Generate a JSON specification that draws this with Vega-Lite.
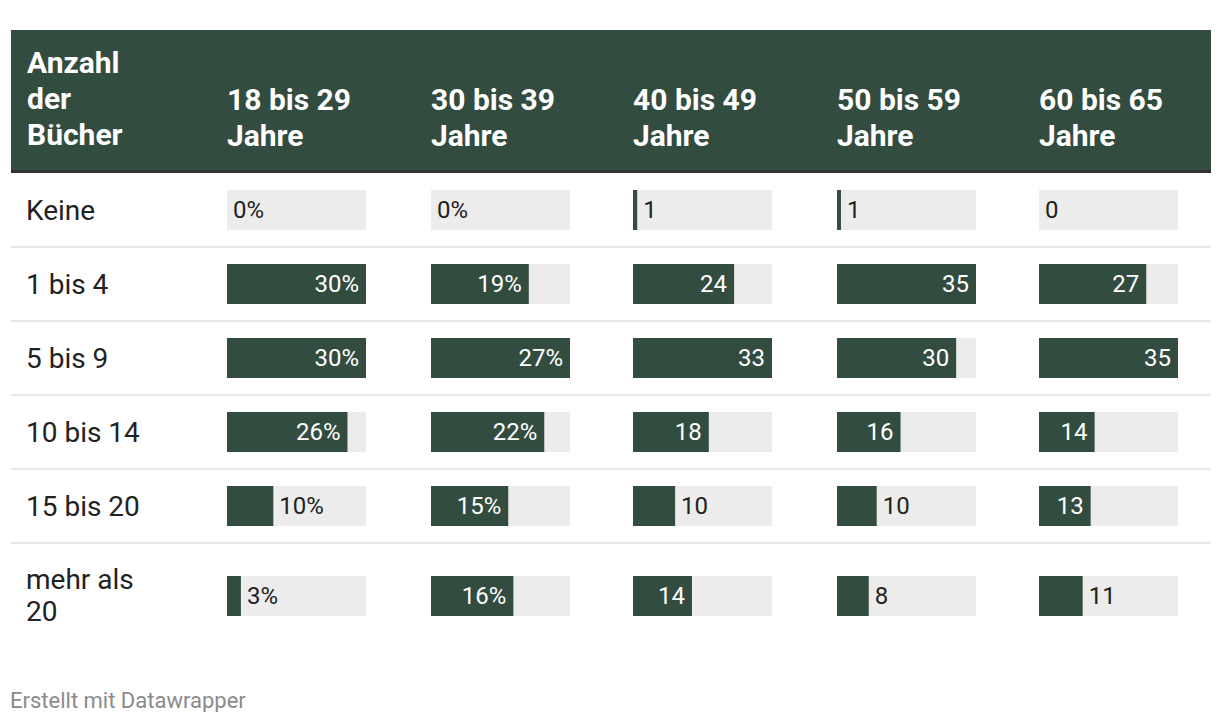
{
  "$schema": "https://vega.github.io/schema/vega-lite/v6.json",
  "background": "white",
  "padding": {"left": 10, "top": 30, "right": 10, "bottom": 0},
  "bounds": "flush",
  "columns": 6,
  "spacing": 0,
  "config": {"font": "Roboto", "view": {"stroke": null}, "concat": {"spacing": 0}},
  "title": {"text": "Erstellt mit Datawrapper", "orient": "bottom", "anchor": "start", "fontSize": 22, "fontWeight": "normal", "color": "#8a8a8a", "offset": 42, "font": "Roboto"},
  "datasets": {
    "t": [
      {"g": "18 bis 29 Jahre", "cat": "Keine", "v": 0, "t": "0%"},
      {"g": "18 bis 29 Jahre", "cat": "1 bis 4", "v": 30, "t": "30%"},
      {"g": "18 bis 29 Jahre", "cat": "5 bis 9", "v": 30, "t": "30%"},
      {"g": "18 bis 29 Jahre", "cat": "10 bis 14", "v": 26, "t": "26%"},
      {"g": "18 bis 29 Jahre", "cat": "15 bis 20", "v": 10, "t": "10%"},
      {"g": "18 bis 29 Jahre", "cat": "mehr als 20", "v": 3, "t": "3%"},
      {"g": "30 bis 39 Jahre", "cat": "Keine", "v": 0, "t": "0%"},
      {"g": "30 bis 39 Jahre", "cat": "1 bis 4", "v": 19, "t": "19%"},
      {"g": "30 bis 39 Jahre", "cat": "5 bis 9", "v": 27, "t": "27%"},
      {"g": "30 bis 39 Jahre", "cat": "10 bis 14", "v": 22, "t": "22%"},
      {"g": "30 bis 39 Jahre", "cat": "15 bis 20", "v": 15, "t": "15%"},
      {"g": "30 bis 39 Jahre", "cat": "mehr als 20", "v": 16, "t": "16%"},
      {"g": "40 bis 49 Jahre", "cat": "Keine", "v": 1, "t": "1"},
      {"g": "40 bis 49 Jahre", "cat": "1 bis 4", "v": 24, "t": "24"},
      {"g": "40 bis 49 Jahre", "cat": "5 bis 9", "v": 33, "t": "33"},
      {"g": "40 bis 49 Jahre", "cat": "10 bis 14", "v": 18, "t": "18"},
      {"g": "40 bis 49 Jahre", "cat": "15 bis 20", "v": 10, "t": "10"},
      {"g": "40 bis 49 Jahre", "cat": "mehr als 20", "v": 14, "t": "14"},
      {"g": "50 bis 59 Jahre", "cat": "Keine", "v": 1, "t": "1"},
      {"g": "50 bis 59 Jahre", "cat": "1 bis 4", "v": 35, "t": "35"},
      {"g": "50 bis 59 Jahre", "cat": "5 bis 9", "v": 30, "t": "30"},
      {"g": "50 bis 59 Jahre", "cat": "10 bis 14", "v": 16, "t": "16"},
      {"g": "50 bis 59 Jahre", "cat": "15 bis 20", "v": 10, "t": "10"},
      {"g": "50 bis 59 Jahre", "cat": "mehr als 20", "v": 8, "t": "8"},
      {"g": "60 bis 65 Jahre", "cat": "Keine", "v": 0, "t": "0"},
      {"g": "60 bis 65 Jahre", "cat": "1 bis 4", "v": 27, "t": "27"},
      {"g": "60 bis 65 Jahre", "cat": "5 bis 9", "v": 35, "t": "35"},
      {"g": "60 bis 65 Jahre", "cat": "10 bis 14", "v": 14, "t": "14"},
      {"g": "60 bis 65 Jahre", "cat": "15 bis 20", "v": 13, "t": "13"},
      {"g": "60 bis 65 Jahre", "cat": "mehr als 20", "v": 11, "t": "11"}
    ]
  },
  "concat": [
    {"width": 216, "height": 140, "view": {"fill": "#334c40", "stroke": null}, "data": {"values": [{"h": "Anzahl\nder\nBücher"}]}, "mark": {"type": "text", "align": "left", "baseline": "alphabetic", "dx": 16, "fontSize": 30, "fontWeight": "bold", "color": "white", "lineBreak": "\n", "lineHeight": 36}, "encoding": {"x": {"value": 0}, "y": {"value": 43}, "text": {"field": "h"}}},
    {"width": 204, "height": 140, "view": {"fill": "#334c40", "stroke": null}, "data": {"values": [{"h": "18 bis 29\nJahre"}]}, "mark": {"type": "text", "align": "left", "baseline": "alphabetic", "dx": 0, "fontSize": 30, "fontWeight": "bold", "color": "white", "lineBreak": "\n", "lineHeight": 36}, "encoding": {"x": {"value": 0}, "y": {"value": 80}, "text": {"field": "h"}}},
    {"width": 202, "height": 140, "view": {"fill": "#334c40", "stroke": null}, "data": {"values": [{"h": "30 bis 39\nJahre"}]}, "mark": {"type": "text", "align": "left", "baseline": "alphabetic", "dx": 0, "fontSize": 30, "fontWeight": "bold", "color": "white", "lineBreak": "\n", "lineHeight": 36}, "encoding": {"x": {"value": 0}, "y": {"value": 80}, "text": {"field": "h"}}},
    {"width": 204, "height": 140, "view": {"fill": "#334c40", "stroke": null}, "data": {"values": [{"h": "40 bis 49\nJahre"}]}, "mark": {"type": "text", "align": "left", "baseline": "alphabetic", "dx": 0, "fontSize": 30, "fontWeight": "bold", "color": "white", "lineBreak": "\n", "lineHeight": 36}, "encoding": {"x": {"value": 0}, "y": {"value": 80}, "text": {"field": "h"}}},
    {"width": 202, "height": 140, "view": {"fill": "#334c40", "stroke": null}, "data": {"values": [{"h": "50 bis 59\nJahre"}]}, "mark": {"type": "text", "align": "left", "baseline": "alphabetic", "dx": 0, "fontSize": 30, "fontWeight": "bold", "color": "white", "lineBreak": "\n", "lineHeight": 36}, "encoding": {"x": {"value": 0}, "y": {"value": 80}, "text": {"field": "h"}}},
    {"width": 172, "height": 140, "view": {"fill": "#334c40", "stroke": null}, "data": {"values": [{"h": "60 bis 65\nJahre"}]}, "mark": {"type": "text", "align": "left", "baseline": "alphabetic", "dx": 0, "fontSize": 30, "fontWeight": "bold", "color": "white", "lineBreak": "\n", "lineHeight": 36}, "encoding": {"x": {"value": 0}, "y": {"value": 80}, "text": {"field": "h"}}},

    {"width": 216, "height": 3, "view": {"fill": "#333333", "stroke": null}, "data": {"values": [{}]}, "mark": {"type": "text", "text": ""}},
    {"width": 204, "height": 3, "view": {"fill": "#333333", "stroke": null}, "data": {"values": [{}]}, "mark": {"type": "text", "text": ""}},
    {"width": 202, "height": 3, "view": {"fill": "#333333", "stroke": null}, "data": {"values": [{}]}, "mark": {"type": "text", "text": ""}},
    {"width": 204, "height": 3, "view": {"fill": "#333333", "stroke": null}, "data": {"values": [{}]}, "mark": {"type": "text", "text": ""}},
    {"width": 202, "height": 3, "view": {"fill": "#333333", "stroke": null}, "data": {"values": [{}]}, "mark": {"type": "text", "text": ""}},
    {"width": 172, "height": 3, "view": {"fill": "#333333", "stroke": null}, "data": {"values": [{}]}, "mark": {"type": "text", "text": ""}},

    {"width": 216, "height": 370, "data": {"name": "t"}, "transform": [{"filter": "datum.g == '18 bis 29 Jahre' && datum.cat != 'mehr als 20'"}],
     "encoding": {"y": {"field": "cat", "type": "nominal", "axis": null, "sort": null, "scale": {"domain": ["Keine", "1 bis 4", "5 bis 9", "10 bis 14", "15 bis 20"], "paddingInner": 0, "paddingOuter": 0}}},
     "layer": [
       {"mark": {"type": "text", "align": "left", "baseline": "middle", "dx": 15, "dy": 2, "fontSize": 28, "color": "#222222"}, "encoding": {"x": {"value": 0}, "text": {"field": "cat"}}},
       {"mark": {"type": "rule", "color": "#e8e8e8", "strokeWidth": 2}, "encoding": {"y": {"field": "cat", "type": "nominal", "bandPosition": 1}}}
     ]},
    {"width": 204, "height": 370, "data": {"name": "t"}, "transform": [{"filter": "datum.g == '18 bis 29 Jahre' && datum.cat != 'mehr als 20'"}],
     "encoding": {"y": {"field": "cat", "type": "nominal", "axis": null, "sort": null, "scale": {"domain": ["Keine", "1 bis 4", "5 bis 9", "10 bis 14", "15 bis 20"], "paddingInner": 0, "paddingOuter": 0}}},
     "layer": [
       {"mark": {"type": "bar", "color": "#ececec", "height": 40}, "encoding": {"x": {"datum": 0, "type": "quantitative", "axis": null, "scale": {"domain": [0, 30], "range": [0, 139], "nice": false}}, "x2": {"datum": 30}}},
       {"mark": {"type": "bar", "color": "#334c40", "height": 40}, "encoding": {"x": {"field": "v", "type": "quantitative", "axis": null}}},
       {"transform": [{"filter": "datum.v >= 10.5"}], "mark": {"type": "text", "align": "right", "baseline": "middle", "dx": -7, "dy": 1, "fontSize": 24, "color": "white"}, "encoding": {"x": {"field": "v", "type": "quantitative"}, "text": {"field": "t"}}},
       {"transform": [{"filter": "datum.v < 10.5"}], "mark": {"type": "text", "align": "left", "baseline": "middle", "dx": 6, "dy": 1, "fontSize": 24, "color": "#222222"}, "encoding": {"x": {"field": "v", "type": "quantitative"}, "text": {"field": "t"}}},
       {"mark": {"type": "rule", "color": "#e8e8e8", "strokeWidth": 2}, "encoding": {"y": {"field": "cat", "type": "nominal", "bandPosition": 1}}}
     ]},
    {"width": 202, "height": 370, "data": {"name": "t"}, "transform": [{"filter": "datum.g == '30 bis 39 Jahre' && datum.cat != 'mehr als 20'"}],
     "encoding": {"y": {"field": "cat", "type": "nominal", "axis": null, "sort": null, "scale": {"domain": ["Keine", "1 bis 4", "5 bis 9", "10 bis 14", "15 bis 20"], "paddingInner": 0, "paddingOuter": 0}}},
     "layer": [
       {"mark": {"type": "bar", "color": "#ececec", "height": 40}, "encoding": {"x": {"datum": 0, "type": "quantitative", "axis": null, "scale": {"domain": [0, 27], "range": [0, 139], "nice": false}}, "x2": {"datum": 27}}},
       {"mark": {"type": "bar", "color": "#334c40", "height": 40}, "encoding": {"x": {"field": "v", "type": "quantitative", "axis": null}}},
       {"transform": [{"filter": "datum.v >= 9.45"}], "mark": {"type": "text", "align": "right", "baseline": "middle", "dx": -7, "dy": 1, "fontSize": 24, "color": "white"}, "encoding": {"x": {"field": "v", "type": "quantitative"}, "text": {"field": "t"}}},
       {"transform": [{"filter": "datum.v < 9.45"}], "mark": {"type": "text", "align": "left", "baseline": "middle", "dx": 6, "dy": 1, "fontSize": 24, "color": "#222222"}, "encoding": {"x": {"field": "v", "type": "quantitative"}, "text": {"field": "t"}}},
       {"mark": {"type": "rule", "color": "#e8e8e8", "strokeWidth": 2}, "encoding": {"y": {"field": "cat", "type": "nominal", "bandPosition": 1}}}
     ]},
    {"width": 204, "height": 370, "data": {"name": "t"}, "transform": [{"filter": "datum.g == '40 bis 49 Jahre' && datum.cat != 'mehr als 20'"}],
     "encoding": {"y": {"field": "cat", "type": "nominal", "axis": null, "sort": null, "scale": {"domain": ["Keine", "1 bis 4", "5 bis 9", "10 bis 14", "15 bis 20"], "paddingInner": 0, "paddingOuter": 0}}},
     "layer": [
       {"mark": {"type": "bar", "color": "#ececec", "height": 40}, "encoding": {"x": {"datum": 0, "type": "quantitative", "axis": null, "scale": {"domain": [0, 33], "range": [0, 139], "nice": false}}, "x2": {"datum": 33}}},
       {"mark": {"type": "bar", "color": "#334c40", "height": 40}, "encoding": {"x": {"field": "v", "type": "quantitative", "axis": null}}},
       {"transform": [{"filter": "datum.v >= 11.55"}], "mark": {"type": "text", "align": "right", "baseline": "middle", "dx": -7, "dy": 1, "fontSize": 24, "color": "white"}, "encoding": {"x": {"field": "v", "type": "quantitative"}, "text": {"field": "t"}}},
       {"transform": [{"filter": "datum.v < 11.55"}], "mark": {"type": "text", "align": "left", "baseline": "middle", "dx": 6, "dy": 1, "fontSize": 24, "color": "#222222"}, "encoding": {"x": {"field": "v", "type": "quantitative"}, "text": {"field": "t"}}},
       {"mark": {"type": "rule", "color": "#e8e8e8", "strokeWidth": 2}, "encoding": {"y": {"field": "cat", "type": "nominal", "bandPosition": 1}}}
     ]},
    {"width": 202, "height": 370, "data": {"name": "t"}, "transform": [{"filter": "datum.g == '50 bis 59 Jahre' && datum.cat != 'mehr als 20'"}],
     "encoding": {"y": {"field": "cat", "type": "nominal", "axis": null, "sort": null, "scale": {"domain": ["Keine", "1 bis 4", "5 bis 9", "10 bis 14", "15 bis 20"], "paddingInner": 0, "paddingOuter": 0}}},
     "layer": [
       {"mark": {"type": "bar", "color": "#ececec", "height": 40}, "encoding": {"x": {"datum": 0, "type": "quantitative", "axis": null, "scale": {"domain": [0, 35], "range": [0, 139], "nice": false}}, "x2": {"datum": 35}}},
       {"mark": {"type": "bar", "color": "#334c40", "height": 40}, "encoding": {"x": {"field": "v", "type": "quantitative", "axis": null}}},
       {"transform": [{"filter": "datum.v >= 12.25"}], "mark": {"type": "text", "align": "right", "baseline": "middle", "dx": -7, "dy": 1, "fontSize": 24, "color": "white"}, "encoding": {"x": {"field": "v", "type": "quantitative"}, "text": {"field": "t"}}},
       {"transform": [{"filter": "datum.v < 12.25"}], "mark": {"type": "text", "align": "left", "baseline": "middle", "dx": 6, "dy": 1, "fontSize": 24, "color": "#222222"}, "encoding": {"x": {"field": "v", "type": "quantitative"}, "text": {"field": "t"}}},
       {"mark": {"type": "rule", "color": "#e8e8e8", "strokeWidth": 2}, "encoding": {"y": {"field": "cat", "type": "nominal", "bandPosition": 1}}}
     ]},
    {"width": 172, "height": 370, "data": {"name": "t"}, "transform": [{"filter": "datum.g == '60 bis 65 Jahre' && datum.cat != 'mehr als 20'"}],
     "encoding": {"y": {"field": "cat", "type": "nominal", "axis": null, "sort": null, "scale": {"domain": ["Keine", "1 bis 4", "5 bis 9", "10 bis 14", "15 bis 20"], "paddingInner": 0, "paddingOuter": 0}}},
     "layer": [
       {"mark": {"type": "bar", "color": "#ececec", "height": 40}, "encoding": {"x": {"datum": 0, "type": "quantitative", "axis": null, "scale": {"domain": [0, 35], "range": [0, 139], "nice": false}}, "x2": {"datum": 35}}},
       {"mark": {"type": "bar", "color": "#334c40", "height": 40}, "encoding": {"x": {"field": "v", "type": "quantitative", "axis": null}}},
       {"transform": [{"filter": "datum.v >= 12.25"}], "mark": {"type": "text", "align": "right", "baseline": "middle", "dx": -7, "dy": 1, "fontSize": 24, "color": "white"}, "encoding": {"x": {"field": "v", "type": "quantitative"}, "text": {"field": "t"}}},
       {"transform": [{"filter": "datum.v < 12.25"}], "mark": {"type": "text", "align": "left", "baseline": "middle", "dx": 6, "dy": 1, "fontSize": 24, "color": "#222222"}, "encoding": {"x": {"field": "v", "type": "quantitative"}, "text": {"field": "t"}}},
       {"mark": {"type": "rule", "color": "#e8e8e8", "strokeWidth": 2}, "encoding": {"y": {"field": "cat", "type": "nominal", "bandPosition": 1}}}
     ]},

    {"width": 216, "height": 106, "data": {"name": "t"}, "transform": [{"filter": "datum.g == '18 bis 29 Jahre' && datum.cat == 'mehr als 20'"}],
     "mark": {"type": "text", "align": "left", "baseline": "alphabetic", "dx": 15, "dy": -7, "fontSize": 28, "color": "#222222", "lineHeight": 32},
     "encoding": {"y": {"field": "cat", "type": "nominal", "axis": null, "scale": {"domain": ["mehr als 20"], "paddingInner": 0, "paddingOuter": 0}}, "x": {"value": 0}, "text": {"value": ["mehr als", "20"]}}},
    {"width": 204, "height": 106, "data": {"name": "t"}, "transform": [{"filter": "datum.g == '18 bis 29 Jahre' && datum.cat == 'mehr als 20'"}],
     "encoding": {"y": {"field": "cat", "type": "nominal", "axis": null, "scale": {"domain": ["mehr als 20"], "paddingInner": 0, "paddingOuter": 0}}},
     "layer": [
       {"mark": {"type": "bar", "color": "#ececec", "height": 40}, "encoding": {"x": {"datum": 0, "type": "quantitative", "axis": null, "scale": {"domain": [0, 30], "range": [0, 139], "nice": false}}, "x2": {"datum": 30}}},
       {"mark": {"type": "bar", "color": "#334c40", "height": 40}, "encoding": {"x": {"field": "v", "type": "quantitative", "axis": null}}},
       {"transform": [{"filter": "datum.v >= 10.5"}], "mark": {"type": "text", "align": "right", "baseline": "middle", "dx": -7, "dy": 1, "fontSize": 24, "color": "white"}, "encoding": {"x": {"field": "v", "type": "quantitative"}, "text": {"field": "t"}}},
       {"transform": [{"filter": "datum.v < 10.5"}], "mark": {"type": "text", "align": "left", "baseline": "middle", "dx": 6, "dy": 1, "fontSize": 24, "color": "#222222"}, "encoding": {"x": {"field": "v", "type": "quantitative"}, "text": {"field": "t"}}}
     ]},
    {"width": 202, "height": 106, "data": {"name": "t"}, "transform": [{"filter": "datum.g == '30 bis 39 Jahre' && datum.cat == 'mehr als 20'"}],
     "encoding": {"y": {"field": "cat", "type": "nominal", "axis": null, "scale": {"domain": ["mehr als 20"], "paddingInner": 0, "paddingOuter": 0}}},
     "layer": [
       {"mark": {"type": "bar", "color": "#ececec", "height": 40}, "encoding": {"x": {"datum": 0, "type": "quantitative", "axis": null, "scale": {"domain": [0, 27], "range": [0, 139], "nice": false}}, "x2": {"datum": 27}}},
       {"mark": {"type": "bar", "color": "#334c40", "height": 40}, "encoding": {"x": {"field": "v", "type": "quantitative", "axis": null}}},
       {"transform": [{"filter": "datum.v >= 9.45"}], "mark": {"type": "text", "align": "right", "baseline": "middle", "dx": -7, "dy": 1, "fontSize": 24, "color": "white"}, "encoding": {"x": {"field": "v", "type": "quantitative"}, "text": {"field": "t"}}},
       {"transform": [{"filter": "datum.v < 9.45"}], "mark": {"type": "text", "align": "left", "baseline": "middle", "dx": 6, "dy": 1, "fontSize": 24, "color": "#222222"}, "encoding": {"x": {"field": "v", "type": "quantitative"}, "text": {"field": "t"}}}
     ]},
    {"width": 204, "height": 106, "data": {"name": "t"}, "transform": [{"filter": "datum.g == '40 bis 49 Jahre' && datum.cat == 'mehr als 20'"}],
     "encoding": {"y": {"field": "cat", "type": "nominal", "axis": null, "scale": {"domain": ["mehr als 20"], "paddingInner": 0, "paddingOuter": 0}}},
     "layer": [
       {"mark": {"type": "bar", "color": "#ececec", "height": 40}, "encoding": {"x": {"datum": 0, "type": "quantitative", "axis": null, "scale": {"domain": [0, 33], "range": [0, 139], "nice": false}}, "x2": {"datum": 33}}},
       {"mark": {"type": "bar", "color": "#334c40", "height": 40}, "encoding": {"x": {"field": "v", "type": "quantitative", "axis": null}}},
       {"transform": [{"filter": "datum.v >= 11.55"}], "mark": {"type": "text", "align": "right", "baseline": "middle", "dx": -7, "dy": 1, "fontSize": 24, "color": "white"}, "encoding": {"x": {"field": "v", "type": "quantitative"}, "text": {"field": "t"}}},
       {"transform": [{"filter": "datum.v < 11.55"}], "mark": {"type": "text", "align": "left", "baseline": "middle", "dx": 6, "dy": 1, "fontSize": 24, "color": "#222222"}, "encoding": {"x": {"field": "v", "type": "quantitative"}, "text": {"field": "t"}}}
     ]},
    {"width": 202, "height": 106, "data": {"name": "t"}, "transform": [{"filter": "datum.g == '50 bis 59 Jahre' && datum.cat == 'mehr als 20'"}],
     "encoding": {"y": {"field": "cat", "type": "nominal", "axis": null, "scale": {"domain": ["mehr als 20"], "paddingInner": 0, "paddingOuter": 0}}},
     "layer": [
       {"mark": {"type": "bar", "color": "#ececec", "height": 40}, "encoding": {"x": {"datum": 0, "type": "quantitative", "axis": null, "scale": {"domain": [0, 35], "range": [0, 139], "nice": false}}, "x2": {"datum": 35}}},
       {"mark": {"type": "bar", "color": "#334c40", "height": 40}, "encoding": {"x": {"field": "v", "type": "quantitative", "axis": null}}},
       {"transform": [{"filter": "datum.v >= 12.25"}], "mark": {"type": "text", "align": "right", "baseline": "middle", "dx": -7, "dy": 1, "fontSize": 24, "color": "white"}, "encoding": {"x": {"field": "v", "type": "quantitative"}, "text": {"field": "t"}}},
       {"transform": [{"filter": "datum.v < 12.25"}], "mark": {"type": "text", "align": "left", "baseline": "middle", "dx": 6, "dy": 1, "fontSize": 24, "color": "#222222"}, "encoding": {"x": {"field": "v", "type": "quantitative"}, "text": {"field": "t"}}}
     ]},
    {"width": 172, "height": 106, "data": {"name": "t"}, "transform": [{"filter": "datum.g == '60 bis 65 Jahre' && datum.cat == 'mehr als 20'"}],
     "encoding": {"y": {"field": "cat", "type": "nominal", "axis": null, "scale": {"domain": ["mehr als 20"], "paddingInner": 0, "paddingOuter": 0}}},
     "layer": [
       {"mark": {"type": "bar", "color": "#ececec", "height": 40}, "encoding": {"x": {"datum": 0, "type": "quantitative", "axis": null, "scale": {"domain": [0, 35], "range": [0, 139], "nice": false}}, "x2": {"datum": 35}}},
       {"mark": {"type": "bar", "color": "#334c40", "height": 40}, "encoding": {"x": {"field": "v", "type": "quantitative", "axis": null}}},
       {"transform": [{"filter": "datum.v >= 12.25"}], "mark": {"type": "text", "align": "right", "baseline": "middle", "dx": -7, "dy": 1, "fontSize": 24, "color": "white"}, "encoding": {"x": {"field": "v", "type": "quantitative"}, "text": {"field": "t"}}},
       {"transform": [{"filter": "datum.v < 12.25"}], "mark": {"type": "text", "align": "left", "baseline": "middle", "dx": 6, "dy": 1, "fontSize": 24, "color": "#222222"}, "encoding": {"x": {"field": "v", "type": "quantitative"}, "text": {"field": "t"}}}
     ]}
  ]
}
